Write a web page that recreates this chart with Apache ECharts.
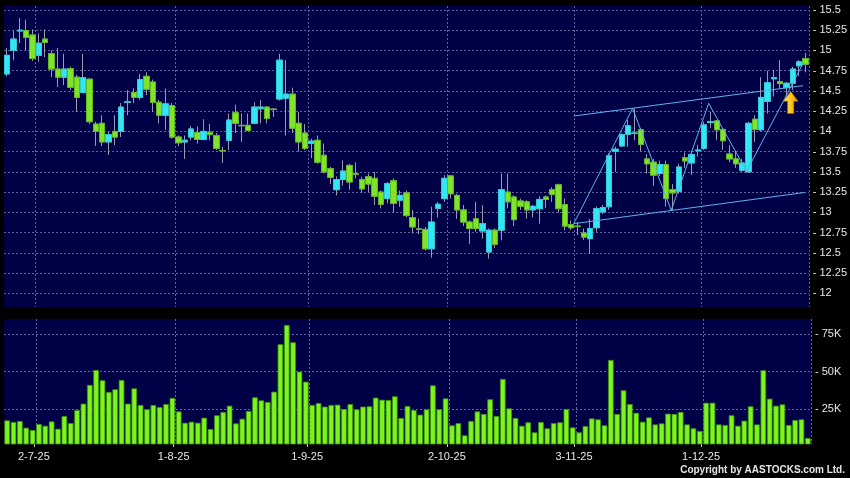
<!DOCTYPE html>
<html><head><meta charset="utf-8">
<script src="https://cdn.jsdelivr.net/npm/echarts@6/dist/echarts.min.js"></script>
<style>html,body{margin:0;padding:0;background:#000;}#c{width:850px;height:478px;}</style>
</head><body><div id="c"></div>
<script>
const dates = [
'2025-06-25','2025-06-26','2025-06-27','2025-06-30',
'2025-07-02','2025-07-03','2025-07-04',
'2025-07-07','2025-07-08','2025-07-09','2025-07-10','2025-07-11',
'2025-07-14','2025-07-15','2025-07-16','2025-07-17','2025-07-18',
'2025-07-21','2025-07-22','2025-07-23','2025-07-24','2025-07-25',
'2025-07-28','2025-07-29','2025-07-30','2025-07-31',
'2025-08-01',
'2025-08-04','2025-08-05','2025-08-06','2025-08-07','2025-08-08',
'2025-08-11','2025-08-12','2025-08-13','2025-08-14','2025-08-15',
'2025-08-18','2025-08-19','2025-08-20','2025-08-21','2025-08-22',
'2025-08-25','2025-08-26','2025-08-27','2025-08-28','2025-08-29',
'2025-09-01','2025-09-02','2025-09-03','2025-09-04','2025-09-05',
'2025-09-08','2025-09-09','2025-09-10','2025-09-11','2025-09-12',
'2025-09-15','2025-09-16','2025-09-17','2025-09-18','2025-09-19',
'2025-09-22','2025-09-23','2025-09-24','2025-09-25','2025-09-26',
'2025-09-29','2025-09-30',
'2025-10-02','2025-10-03','2025-10-06','2025-10-08','2025-10-09','2025-10-10',
'2025-10-13','2025-10-14','2025-10-15','2025-10-16','2025-10-17',
'2025-10-20','2025-10-21','2025-10-22','2025-10-23','2025-10-24',
'2025-10-27','2025-10-28','2025-10-30','2025-10-31',
'2025-11-03','2025-11-04','2025-11-05','2025-11-06','2025-11-07',
'2025-11-10','2025-11-11','2025-11-12','2025-11-13','2025-11-14',
'2025-11-17','2025-11-18','2025-11-19','2025-11-20','2025-11-21',
'2025-11-24','2025-11-25','2025-11-26','2025-11-27','2025-11-28',
'2025-12-01','2025-12-02','2025-12-03','2025-12-04','2025-12-05',
'2025-12-08','2025-12-09','2025-12-10','2025-12-11','2025-12-12',
'2025-12-15','2025-12-16','2025-12-17','2025-12-18','2025-12-19',
'2025-12-22','2025-12-23','2025-12-24'
];
const opens = [
14.71,15.00,15.24,15.245,15.19,14.94,15.14,14.96,14.77,14.67,
14.775,14.67,14.48,14.645,14.09,14.10,13.87,14.00,14.00,14.36,
14.48,14.42,14.68,14.61,14.36,14.20,14.32,13.93,13.87,13.93,
13.985,13.90,13.99,13.95,13.765,13.89,14.23,14.075,14.075,14.10,
14.28,14.30,14.275,14.40,14.41,14.46,14.10,13.98,13.85,13.89,
13.705,13.54,13.28,13.405,13.58,13.475,13.405,13.44,13.42,13.25,
13.17,13.39,13.15,13.24,12.935,12.795,12.79,12.55,13.05,13.17,
13.45,13.21,13.03,12.88,12.92,12.77,12.51,12.78,12.78,13.25,
13.19,13.14,13.13,13.03,13.045,13.19,13.28,13.34,13.095,12.85,
12.83,12.745,12.675,12.81,13.005,13.07,13.755,13.82,13.965,13.975,
14.02,13.66,13.62,13.48,13.59,13.28,13.26,13.675,13.61,13.76,
13.79,14.11,14.13,14.025,13.72,13.66,13.52,13.50,14.15,14.02,
14.37,14.65,14.615,14.54,14.595,14.81,14.90
];
const closes = [
14.94,15.14,15.25,15.16,14.90,15.09,15.10,14.77,14.67,14.77,
14.545,14.42,14.665,14.12,14.00,13.87,13.96,13.93,14.30,14.365,
14.42,14.64,14.52,14.36,14.20,14.34,13.93,13.86,13.89,14.03,
13.90,14.00,13.96,13.79,13.76,14.14,14.10,14.07,14.01,14.30,
14.30,14.16,14.27,14.88,14.46,14.04,13.87,13.79,13.88,13.62,
13.50,13.43,13.405,13.51,13.375,13.47,13.29,13.35,13.20,13.10,
13.355,13.11,13.21,12.96,12.82,12.79,12.55,12.88,13.10,13.42,
13.23,13.03,12.88,12.80,12.80,12.86,12.78,12.605,13.28,13.13,
12.91,13.075,13.03,13.075,13.16,13.16,13.22,13.045,12.83,12.81,
12.825,12.695,12.80,13.045,13.06,13.70,13.78,13.96,14.07,13.98,
13.84,13.60,13.46,13.59,13.17,13.24,13.56,13.635,13.715,13.77,
14.08,14.12,14.02,13.885,13.66,13.60,13.61,14.10,14.025,14.42,
14.60,14.665,14.59,14.595,14.77,14.86,14.83
];
const lows = [
14.68,14.88,15.09,15.00,14.87,14.86,14.92,14.67,14.55,14.57,
14.51,14.24,14.47,14.09,13.82,13.82,13.71,13.83,13.93,14.20,
14.35,14.39,14.45,14.24,14.10,14.02,13.91,13.82,13.66,13.89,
13.85,13.89,13.89,13.77,13.61,13.77,13.98,13.87,14.01,14.09,
14.10,14.10,14.18,14.38,13.95,13.98,13.75,13.77,13.67,13.60,
13.48,13.35,13.21,13.33,13.28,13.42,13.24,13.25,13.09,13.05,
13.11,13.00,13.07,12.94,12.74,12.73,12.53,12.44,12.935,13.13,
13.17,12.92,12.83,12.61,12.76,12.675,12.43,12.56,12.655,13.05,
12.83,13.03,12.92,12.94,12.86,13.05,13.13,13.00,12.78,12.78,
12.72,12.66,12.49,12.76,12.98,13.03,13.50,13.81,13.81,13.89,
13.75,13.48,13.33,13.45,13.07,13.03,13.23,13.55,13.46,13.69,
13.77,14.04,13.89,13.77,13.62,13.55,13.50,13.49,13.87,14.00,
14.22,14.43,14.53,14.43,14.51,14.68,14.73
];
const highs = [
15.03,15.24,15.40,15.38,15.26,15.21,15.26,15.00,15.03,14.96,
14.80,14.70,14.96,14.66,14.12,14.20,14.00,14.20,14.35,14.51,
14.53,14.71,14.73,14.64,14.39,14.53,14.35,13.95,13.95,14.07,
14.06,14.15,14.09,13.98,13.81,14.22,14.33,14.22,14.22,14.36,
14.39,14.31,14.29,14.96,14.88,14.54,14.24,14.09,13.91,13.95,
13.85,13.56,13.445,13.64,13.60,13.62,13.44,13.48,13.50,13.27,
13.375,13.42,13.27,13.27,13.03,12.92,12.82,13.07,13.13,13.46,
13.46,13.23,13.09,12.90,13.13,13.09,12.80,12.80,13.48,13.48,
13.21,13.17,13.15,13.09,13.20,13.21,13.31,13.355,13.17,12.90,
12.88,12.80,12.92,13.07,13.09,13.73,13.81,13.975,14.14,14.28,
14.04,13.72,13.66,13.64,13.64,13.35,13.60,13.74,13.76,13.83,
14.12,14.24,14.14,14.04,13.83,13.75,13.66,14.12,14.20,14.67,
14.75,14.76,14.88,14.61,14.80,14.88,14.97
];
const volumes = [ // thousands of shares
17.4,16.3,17.0,12.5,10.9,15.0,13.8,16.7,11.8,20.3,
15.6,24.3,28.6,41.1,51.1,44.2,36.4,38.2,44.4,28.6,
38.8,27.7,24.8,27.7,26.3,28.3,32.4,23.4,15.8,16.5,
15.8,19.2,11.6,20.8,23.0,27.2,15.4,18.5,23.7,32.8,
30.8,29.7,36.6,68.3,81.2,69.6,50.0,43.3,27.7,29.0,
26.6,27.7,27.9,25.0,28.3,24.8,26.6,26.8,32.6,31.2,
31.0,33.5,19.0,27.0,24.3,21.2,24.8,40.8,24.8,32.1,
14.1,15.6,7.4,17.0,23.4,21.7,31.5,20.3,45.1,25.4,
19.0,13.8,16.1,9.4,16.3,12.1,15.6,16.1,25.0,12.7,
9.4,13.6,18.7,18.1,14.1,57.8,21.7,37.5,28.3,22.5,
16.5,19.4,14.7,15.4,21.9,21.7,23.0,14.7,12.1,10.3,
29.2,29.2,14.7,14.3,20.8,13.8,17.2,26.8,14.7,50.9,
31.9,27.2,28.1,14.3,17.6,18.1,5.6
];
const priceTicks = [12,12.25,12.5,12.75,13,13.25,13.5,13.75,14,14.25,14.5,14.75,15,15.25,15.5];
const volumeTicks = [25,50,75];
const tickDates = ['2025-07-02','2025-08-01','2025-09-01','2025-10-02','2025-11-03','2025-12-01'];
// annotation lines, x in candle-index units
const channelUpper = [[89.4,14.19],[125.6,14.565]];
const channelLower = [[89.4,12.86],[125.8,13.245]];
const zigzag = [[89.4,12.86],[98.7,14.285],[104.8,13.025],[110.7,14.347],[116.7,13.507],[125.8,14.87]];
const arrowPoint = [[123.65,14.357]];

const N = dates.length;
const tickIdx = tickDates.map(d => dates.indexOf(d));
const tickPos = tickIdx.map(i => i + 0.2);
const fmtDate = s => { const p = s.split('-'); return (+p[2]) + '-' + (+p[1]) + '-' + p[0].slice(2); };
const ohlc = dates.map((d,i) => [opens[i], closes[i], lows[i], highs[i]]);
const bodies = dates.map((d,i) => [opens[i], closes[i], Math.min(opens[i],closes[i]), Math.max(opens[i],closes[i])]);

const NAVY = '#000046';
const GRIDC = '#60609a';
const TXT = '#e6e6e6';
const FONT = 'Liberation Sans, Arial, sans-serif';
const CYAN = '#33e6f2', GREEN = '#80e52a', WICK = '#9a9aaa';
const splitStyle = {color: GRIDC, type: [2,2], width: 1};
const vSplit = {show: true, interval: (idx) => tickIdx.indexOf(idx - 1) >= 0, lineStyle: splitStyle};

const chart = echarts.init(document.getElementById('c'), null, {renderer: 'canvas'});
chart.setOption({
  animation: false,
  backgroundColor: '#000000',
  grid: [
    {left: 4, right: 39, top: 6, height: 301, show: true, backgroundColor: NAVY, borderWidth: 0},
    {left: 4, right: 39, top: 319, height: 125, show: true, backgroundColor: NAVY, borderWidth: 0}
  ],
  xAxis: [
    {type: 'category', gridIndex: 0, data: dates, boundaryGap: true,
     axisLine: {show: false}, axisTick: {show: false}, axisLabel: {show: false}, splitLine: vSplit},
    {type: 'category', gridIndex: 1, data: dates, boundaryGap: true,
     axisLine: {show: false}, axisTick: {show: false}, axisLabel: {show: false}, splitLine: vSplit},
    {type: 'value', gridIndex: 0, min: -0.5, max: N - 0.5, show: false},
    {type: 'value', gridIndex: 1, min: -0.5, max: N - 0.5, position: 'bottom',
     axisLine: {show: false}, splitLine: {show: false},
     axisTick: {show: true, customValues: tickPos, length: 3, lineStyle: {color: '#cccccc'}},
     axisLabel: {show: true, customValues: tickPos, margin: 7, color: TXT, fontSize: 11, fontFamily: FONT,
       formatter: v => fmtDate(dates[Math.round(v - 0.2)])}}
  ],
  yAxis: [
    {type: 'value', gridIndex: 0, position: 'right', min: 11.831, max: 15.549, scale: true,
     axisLine: {show: false},
     axisTick: {show: false, customValues: priceTicks},
     axisLabel: {customValues: priceTicks, margin: 4, color: TXT, fontSize: 11, fontFamily: FONT,
       formatter: v => '- ' + v},
     splitLine: {show: true, lineStyle: splitStyle}},
    {type: 'value', gridIndex: 1, position: 'right', min: 1.6, max: 85.2,
     axisLine: {show: false},
     axisTick: {show: false, customValues: volumeTicks},
     axisLabel: {customValues: volumeTicks, margin: 4, color: TXT, fontSize: 11, fontFamily: FONT,
       formatter: v => '- ' + v + 'K'},
     splitLine: {show: true, lineStyle: splitStyle}}
  ],
  series: [
    {type: 'candlestick', name: 'wick', xAxisIndex: 0, yAxisIndex: 0, data: ohlc, barWidth: 6, z: 2,
     itemStyle: {color: CYAN, color0: GREEN, borderColor: WICK, borderColor0: WICK, borderColorDoji: WICK, borderWidth: 1}},
    {type: 'candlestick', name: 'body', xAxisIndex: 0, yAxisIndex: 0, data: bodies, barWidth: 6, z: 3,
     itemStyle: {color: CYAN, color0: GREEN, borderColor: '#2ccbdc', borderColor0: '#5fb81e', borderColorDoji: WICK, borderWidth: 1}},
    {type: 'bar', name: 'volume', xAxisIndex: 1, yAxisIndex: 1, data: volumes, barWidth: 5.6, clip: true,
     itemStyle: {color: '#7cf51c', borderColor: '#3f8f12', borderWidth: 0.8}},
    {type: 'line', xAxisIndex: 2, yAxisIndex: 0, data: channelUpper, symbol: 'none', z: 4,
     lineStyle: {color: '#5fb2ee', width: 1}},
    {type: 'line', xAxisIndex: 2, yAxisIndex: 0, data: channelLower, symbol: 'none', z: 4,
     lineStyle: {color: '#5fb2ee', width: 1}},
    {type: 'line', xAxisIndex: 2, yAxisIndex: 0, data: zigzag, symbol: 'none', z: 4,
     lineStyle: {color: '#5fb2ee', width: 1}},
    {type: 'scatter', xAxisIndex: 2, yAxisIndex: 0, data: arrowPoint, z: 6,
     symbol: 'path://M6,0 L12,8 L8.5,8 L8.5,18 L3.5,18 L3.5,8 L0,8 Z', symbolSize: [15, 22],
     itemStyle: {opacity: 1, borderColor: '#b07000', borderWidth: 0.5,
       color: new echarts.graphic.LinearGradient(0,0,1,0,[{offset:0,color:'#ffe45a'},{offset:0.5,color:'#ffc81e'},{offset:1,color:'#e08a00'}])}}
  ],
  graphic: [
    {type: 'text', right: 5, top: 465,
     style: {text: 'Copyright by AASTOCKS.com Ltd.', fill: TXT, font: 'bold 10px ' + FONT}}
  ]
});
</script></body></html>
